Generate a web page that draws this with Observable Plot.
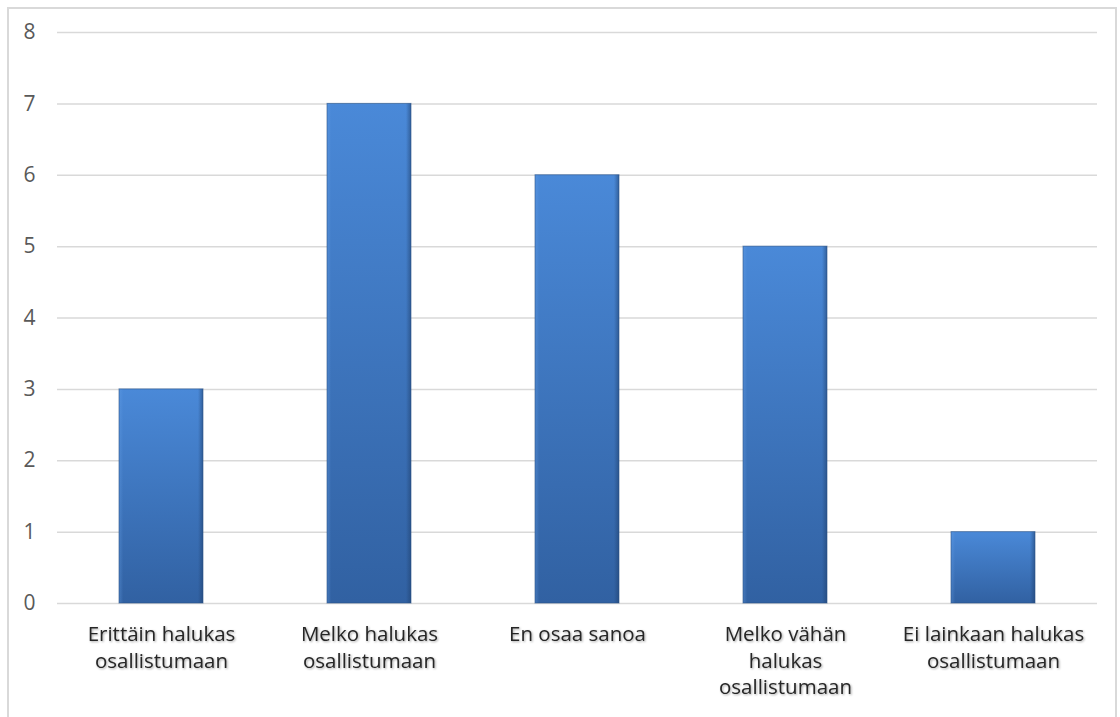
<!DOCTYPE html>
<html>
<head>
<meta charset="utf-8">
<script src="https://cdn.jsdelivr.net/npm/d3@7"></script>
<script src="https://cdn.jsdelivr.net/npm/@observablehq/plot@0.6"></script>
<style>
  html, body { margin: 0; padding: 0; background: #fff; }
  #wrap { position: relative; width: 1120px; height: 717px; overflow: hidden; }
  #border { position: absolute; left: 7px; top: 7px; width: 1110px; height: 720px;
            border: 2px solid #d9d9d9; box-sizing: border-box; pointer-events: none; }
  .xlab text { filter: drop-shadow(1px 1px 1px rgba(0,0,0,0.35)); }
</style>
</head>
<body>
<div id="wrap"><div id="border"></div></div>
<script>
const categories = [
  "Erittäin halukas\nosallistumaan",
  "Melko halukas\nosallistumaan",
  "En osaa sanoa",
  "Melko vähän\nhalukas\nosallistumaan",
  "Ei lainkaan halukas\nosallistumaan"
];
const values = [3, 7, 6, 5, 1];
const yTicks = [0, 1, 2, 3, 4, 5, 6, 7, 8];

const data = categories.map((c, i) => ({category: c, value: values[i]}));

const chart = Plot.plot({
  width: 1120,
  height: 717,
  marginTop: 32,
  marginBottom: 114,
  marginLeft: 57,
  marginRight: 23,
  style: {fontFamily: "'Open Sans', sans-serif", background: "transparent"},
  x: {domain: categories, paddingInner: 0.595, paddingOuter: 0.2975, label: null},
  y: {domain: [0, 8], ticks: yTicks, label: null},
  marks: [
    Plot.gridY(yTicks, {stroke: "#d9d9d9", strokeOpacity: 1, strokeWidth: 1.5}),
    Plot.barY(data, {x: "category", y: "value", fill: "url(#barGrad)"}),
    Plot.barY(data, {x: "category", y: "value", fill: "url(#edgeGrad)"}),
    Plot.barY(data, {x: "category", y: "value", fill: "none", stroke: "#2a5285", strokeWidth: 1, strokeOpacity: 0.6}),
    Plot.axisY(yTicks, {tickSize: 0, tickPadding: 22, fontSize: 21, fill: "#595959", tickFormat: d => String(d)}),
    Plot.axisX({tickSize: 0, tickPadding: 19, fontSize: 20.5, fill: "#262626", lineHeight: 1.29, lineAnchor: "top", className: "xlab"})
  ]
});

const ns = "http://www.w3.org/2000/svg";
const defs = document.createElementNS(ns, "defs");
defs.innerHTML = `
  <linearGradient id="barGrad" x1="0" y1="0" x2="0" y2="1">
    <stop offset="0" stop-color="#4a89d8"/>
    <stop offset="1" stop-color="#3161a2"/>
  </linearGradient>
  <linearGradient id="edgeGrad" x1="0" y1="0" x2="1" y2="0">
    <stop offset="0" stop-color="#6aa3e8" stop-opacity="0.35"/>
    <stop offset="0.05" stop-color="#6aa3e8" stop-opacity="0"/>
    <stop offset="0.94" stop-color="#1f3f6b" stop-opacity="0"/>
    <stop offset="1" stop-color="#1f3f6b" stop-opacity="0.55"/>
  </linearGradient>`;
chart.insertBefore(defs, chart.firstChild);
chart.style.position = "absolute";
chart.style.left = "0";
chart.style.top = "0";
document.getElementById("wrap").appendChild(chart);
</script>
</body>
</html>
